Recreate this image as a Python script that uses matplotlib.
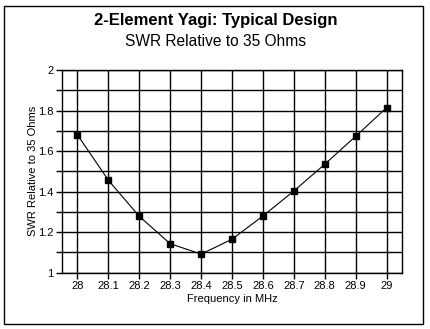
import numpy as np
import matplotlib
matplotlib.use('Agg')
import matplotlib.pyplot as plt
from matplotlib.patches import Rectangle

plt.rcParams['font.family'] = ['Liberation Sans', 'DejaVu Sans']

# SWR sweep across the 10 m band
freq = [28.0, 28.1, 28.2, 28.3, 28.4, 28.5, 28.6, 28.7, 28.8, 28.9, 29.0]
swr = [1.68, 1.456, 1.278, 1.143, 1.092, 1.165, 1.28, 1.403, 1.535, 1.673, 1.814]

x_ticks = [28.0, 28.1, 28.2, 28.3, 28.4, 28.5, 28.6, 28.7, 28.8, 28.9, 29.0]
x_tick_labels = ['28', '28.1', '28.2', '28.3', '28.4', '28.5', '28.6', '28.7', '28.8', '28.9', '29']
y_ticks = [1.0, 1.2, 1.4, 1.6, 1.8, 2.0]
y_tick_labels = ['1', '1.2', '1.4', '1.6', '1.8', '2']

fig = plt.figure(figsize=(4.31, 3.29), dpi=100)
ax = fig.add_axes([0.1439, 0.1711, 0.7888, 0.6161])

# outer frame around the whole chart
fig.patches.append(Rectangle((4.5 / 431, 1 - 323.5 / 329), 419 / 431, 318 / 329,
                             transform=fig.transFigure, fill=False,
                             edgecolor='black', linewidth=1.0))

ax.plot(freq, swr, color='black', linewidth=0.8, marker='s', markersize=4.2,
        markerfacecolor='black', markeredgecolor='black')

ax.set_xlim(27.95, 29.05)
ax.set_ylim(1.0, 2.0)
ax.set_xticks(x_ticks)
ax.set_xticklabels(x_tick_labels, fontsize=8)
ax.set_yticks(y_ticks)
ax.set_yticklabels(y_tick_labels, fontsize=8)
ax.set_yticks(np.arange(1.1, 2.0, 0.2), minor=True)
ax.tick_params(axis='both', which='both', direction='out', length=4, width=1,
               color='black', pad=2)

ax.grid(True, which='both', color='black', linewidth=1.0)
ax.set_axisbelow(True)
for spine in ax.spines.values():
    spine.set_linewidth(1.0)

ax.set_xlabel('Frequency in MHz', fontsize=8, labelpad=2)
ax.set_ylabel('SWR Relative to 35 Ohms', fontsize=8, labelpad=0)

fig.text(0.5, 1 - 20 / 329, '2-Element Yagi: Typical Design', ha='center', va='center',
         fontsize=12, fontweight='bold')
fig.text(0.5, 1 - 42 / 329, 'SWR Relative to 35 Ohms', ha='center', va='center',
         fontsize=11.2)

plt.savefig('out.png', dpi=100)
